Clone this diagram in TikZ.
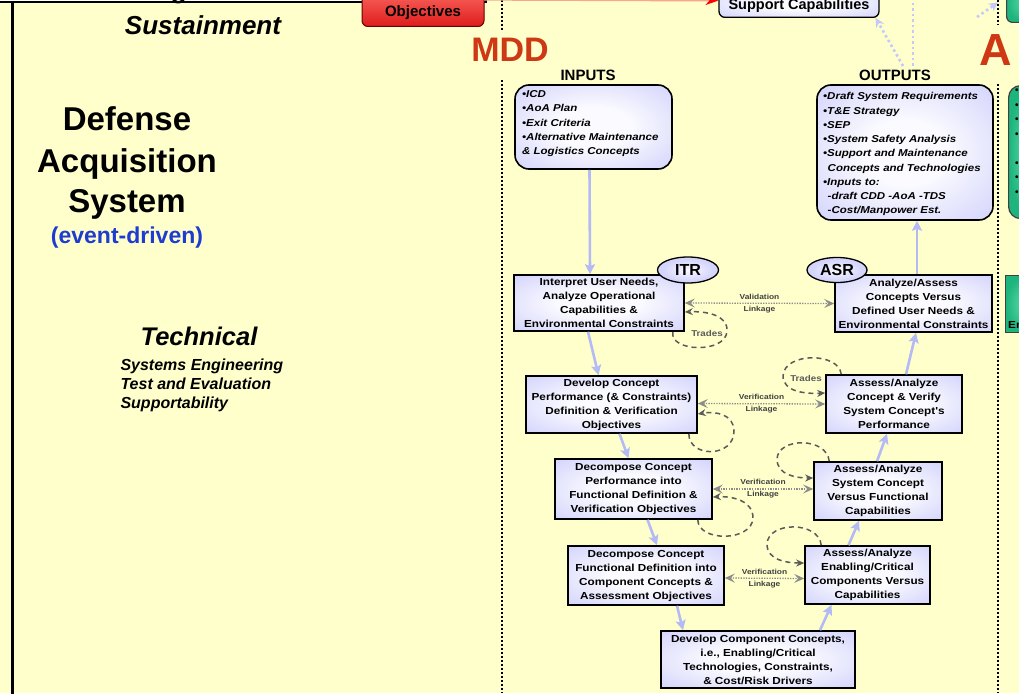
\documentclass[tikz,border=0pt]{standalone}
\usepackage{fontspec}
\setmainfont{Liberation Sans}
\newfontfamily\widesans{Liberation Sans}[FakeStretch=1.15]
\usetikzlibrary{arrows.meta,shapes.geometric}

\definecolor{pagebg}{RGB}{255,255,204}
\definecolor{lavedge}{RGB}{184,184,248}
\definecolor{lavmid}{RGB}{214,214,252}
\definecolor{lavcore}{RGB}{250,250,255}
\definecolor{ovaledge}{RGB}{196,196,255}
\definecolor{flowblue}{RGB}{180,186,246}
\definecolor{lbdot}{RGB}{196,200,250}
\definecolor{mddred}{RGB}{206,56,20}
\definecolor{evblue}{RGB}{30,60,210}
\definecolor{linkgray}{RGB}{140,140,140}
\definecolor{loopgray}{RGB}{90,90,90}
\definecolor{greenedge}{RGB}{30,180,125}
\definecolor{greencore}{RGB}{95,222,172}
\definecolor{redtop}{RGB}{255,115,105}
\definecolor{redbot}{RGB}{222,28,28}
\definecolor{redline}{RGB}{250,165,145}

% soft glow: near-white centre fading to lavender at the border
\pgfdeclareradialshading{boxglow}{\pgfpoint{0bp}{0bp}}{%
  color(0bp)=(lavcore); color(12bp)=(lavcore); color(34bp)=(lavmid);
  color(50bp)=(lavedge); color(100bp)=(lavedge)}
\pgfdeclareradialshading{ovalglow}{\pgfpoint{0bp}{0bp}}{%
  color(0bp)=(lavcore); color(20bp)=(lavmid); color(50bp)=(ovaledge); color(100bp)=(ovaledge)}

\newcommand{\boxtxt}{\widesans\bfseries\fontsize{10.2}{14}\selectfont}
\newcommand{\listtxt}{\widesans\bfseries\itshape\fontsize{10}{14.25}\selectfont}
\newcommand{\linktxt}{\widesans\bfseries\fontsize{7.3}{12}\selectfont}
\newcommand{\tradetxt}{\widesans\bfseries\fontsize{8.5}{10}\selectfont}

\begin{document}
\begin{tikzpicture}[x=1pt,y=-1pt,
  stepbox/.style={draw=black, line width=1.6pt, inner sep=0pt, align=center,
    shading=boxglow, font=\boxtxt},
  roundbox/.style={draw=black, line width=1.6pt, rounded corners=14pt, inner sep=0pt,
    shading=boxglow},
  listtext/.style={align=left, inner sep=0pt, font=\listtxt},
  tagoval/.style={ellipse, draw=black, line width=1.3pt, inner sep=0pt,
    shading=ovalglow, font=\bfseries\fontsize{16}{18}\selectfont},
  greenbox/.style={draw=black!75, line width=1.2pt, inner sep=0pt,
    inner color=greencore, outer color=greenedge},
  flow/.style={draw=flowblue, line width=2.6pt, -{Stealth[length=10pt,width=10pt,inset=2pt]}},
  lbdotted/.style={draw=lbdot, line width=2.6pt, dash pattern=on 2.5pt off 3pt},
  linkage/.style={draw=linkgray, line width=1.3pt, dash pattern=on 1.3pt off 1.3pt,
    {Stealth[length=10pt,width=9pt,inset=4pt]}-{Stealth[length=10pt,width=9pt,inset=4pt]}},
  linklabel/.style={align=center, inner sep=0pt, text=black!75, font=\linktxt},
  tradeloop/.style={draw=loopgray, line width=1.5pt, dash pattern=on 5pt off 4pt,
    -{Stealth[length=8pt,width=7pt]}},
  tradelabel/.style={inner sep=0pt, text=loopgray, font=\tradetxt},
  divider/.style={draw=black, line width=2pt, dash pattern=on 2pt off 2pt},
  heading/.style={anchor=base, font=\bfseries\fontsize{15}{17}\selectfont}
]
\clip (0,0) rectangle (1019,693);
\fill[pagebg] (0,0) rectangle (1019,693);

% phase dividers
\draw[divider] (502,0) -- (502,693);
\draw[divider] (998,0) -- (998,693);

% frame at the upper left
\draw[line width=2pt, fill=white] (-10,-20) rectangle (486,2.5);
\draw[line width=3pt] (12.5,2) -- (12.5,700);

% left-hand titles
\node[anchor=base, font=\bfseries\itshape\fontsize{26}{28}\selectfont] (logistics) at (211,-1) {Logistics \&};
\node[anchor=base, font=\bfseries\itshape\fontsize{26}{28}\selectfont] (sustain) at (203,35) {Sustainment};
\node[anchor=base, font=\bfseries\fontsize{33}{36}\selectfont] (defense) at (127,130) {Defense};
\node[anchor=base, font=\bfseries\fontsize{33}{36}\selectfont] (acquisition) at (127,172) {Acquisition};
\node[anchor=base, font=\bfseries\fontsize{33}{36}\selectfont] (system) at (127,212) {System};
\node[anchor=base, text=evblue, font=\bfseries\fontsize{23}{25}\selectfont] (event) at (127,243) {(event-driven)};
\node[anchor=base, font=\bfseries\itshape\fontsize{25.5}{28}\selectfont] (technical) at (199,345) {Technical};
\node[anchor=base west, font=\bfseries\itshape\fontsize{16}{18}\selectfont] (se) at (117,370) {Systems Engineering};
\node[anchor=base west, font=\bfseries\itshape\fontsize{16}{18}\selectfont] (te) at (117,389) {Test and Evaluation};
\node[anchor=base west, font=\bfseries\itshape\fontsize{16}{18}\selectfont] (sup) at (117,408) {Supportability};

% top row
\node[anchor=south, draw=black!60!red, line width=1pt, rounded corners=6pt,
  top color=redtop, bottom color=redbot, minimum width=122pt,
  inner ysep=2pt, text height=30pt, text depth=7.5pt,
  font=\bfseries\fontsize{15}{17}\selectfont] (redbox) at (423,27) {Objectives};
\node[anchor=south, draw=black, line width=1.3pt, rounded corners=6pt,
  shading=boxglow, minimum width=160pt,
  inner ysep=2pt, text height=20pt, text depth=5.5pt,
  font=\bfseries\fontsize{14.5}{16}\selectfont] (support) at (799,18) {Support Capabilities};
\draw[draw=redline, line width=1.8pt, -{Stealth[length=13pt,width=9pt,color=red]}]
  ([yshift=6pt]redbox.east) -- ([yshift=2pt]support.west);

\node[anchor=south west, greenbox, rounded corners=6pt, minimum width=40pt, minimum height=40pt] (gtop) at (1006,23) {};

% milestone letters
\node[anchor=base, fill=pagebg, inner xsep=3pt, inner ysep=8pt, text height=24pt, text depth=9pt,
  text=mddred, font=\bfseries\fontsize{34}{36}\selectfont] (mdd) at (510,62) {MDD};
\node[anchor=base, fill=pagebg, inner xsep=3pt, inner ysep=8pt, text height=33pt, text depth=10pt,
  text=mddred, font=\bfseries\fontsize{45}{48}\selectfont] (msa) at (996,66) {A};

% inputs and outputs
\node[heading] (inlabel) at (588,80) {INPUTS};
\node[heading] (outlabel) at (895,80) {OUTPUTS};

\node[roundbox, minimum width=157pt, minimum height=84pt] (inputs) at (593.5,127) {};
\node[listtext, anchor=north west] (inputslist) at (522,90.4)
  {•ICD\\•AoA Plan\\•Exit Criteria\\•Alternative Maintenance\\\& Logistics Concepts};

\node[roundbox, minimum width=176pt, minimum height=135pt] (outputs) at (905,152.5) {};
\node[listtext, anchor=north west] (outputslist) at (823,92.4)
  {•Draft System Requirements\\•T\&E Strategy\\•SEP\\•System Safety Analysis\\
   •Support and Maintenance\\\hspace*{4.5pt}Concepts and Technologies\\•Inputs to:\\
   \hspace*{4.5pt}-draft CDD -AoA -TDS\\\hspace*{4.5pt}-Cost/Manpower Est.};

\node[anchor=north west, greenbox, rounded corners=12pt, minimum width=40pt, minimum height=133pt] (gmid) at (1008,85) {};
\node[anchor=north west, align=left, inner sep=0pt, font=\bfseries\fontsize{10}{14.5}\selectfont]
  (gmidlist) at (1015,89) {•\\•\\•\\•\\\mbox{}\\•\\•\\•};
\node[anchor=north west, greenbox, minimum width=40pt, minimum height=57pt] (glow) at (1005,275) {};
\node[anchor=base west, inner sep=0pt, font=\boxtxt] (glowtext) at (1008,328) {Environmental};

% dotted feeds toward the top row
\coordinate (outtop) at (913,-5);
\coordinate (gfrom) at (977,17);
\draw[lbdotted, -{Stealth[length=9pt,width=9pt]}] ([xshift=8pt]outlabel.north) -- ([xshift=-4pt]support.south east);
\draw[lbdotted] ([xshift=18pt]outlabel.north) -- (outtop);
\draw[lbdotted, -{Stealth[length=9pt,width=9pt]}] (gfrom) -- ([xshift=-8pt]gtop.west);

% decomposition (left) and realization (right) steps
\node[stepbox, minimum width=170pt, minimum height=56pt] (b1) at (599,303)
  {Interpret User Needs,\\Analyze Operational\\Capabilities \&\\Environmental Constraints};
\node[stepbox, minimum width=171pt, minimum height=57pt] (b2) at (611.5,404.5)
  {Develop Concept\\Performance (\& Constraints)\\Definition \& Verification\\Objectives};
\node[stepbox, minimum width=157pt, minimum height=60pt] (b3) at (633.5,489)
  {Decompose Concept\\Performance into\\Functional Definition \&\\Verification Objectives};
\node[stepbox, minimum width=156pt, minimum height=59pt] (b4) at (646,575.5)
  {Decompose Concept\\Functional Definition into\\Component Concepts \&\\Assessment Objectives};
\node[stepbox, minimum width=194pt, minimum height=57pt] (b5) at (758,659.5)
  {Develop Component Concepts,\\i.e., Enabling/Critical\\Technologies, Constraints,\\\& Cost/Risk Drivers};

\node[stepbox, minimum width=157pt, minimum height=57pt] (r1) at (913.5,303.5)
  {Analyze/Assess\\Concepts Versus\\Defined User Needs \&\\Environmental Constraints};
\node[stepbox, minimum width=136pt, minimum height=58pt] (r2) at (894,404)
  {Assess/Analyze\\Concept \& Verify\\System Concept's\\Performance};
\node[stepbox, minimum width=128pt, minimum height=58pt] (r3) at (878,491)
  {Assess/Analyze\\System Concept\\Versus Functional\\Capabilities};
\node[stepbox, minimum width=125pt, minimum height=58pt] (r4) at (867.5,575)
  {Assess/Analyze\\Enabling/Critical\\Components Versus\\Capabilities};

% technical reviews
\node[tagoval, minimum width=61pt, minimum height=26pt] (itr) at (688,270) {ITR};
\node[tagoval, minimum width=60pt, minimum height=25pt] (asr) at (837,270) {ASR};

% flow down the left and up the right
\draw[flow] ([xshift=-4pt]inputs.south) -- ([xshift=-9pt]b1.north);
\draw[flow] ([xshift=-11pt]b1.south) -- ([xshift=-13pt]b2.north);
\draw[flow] ([xshift=8pt]b2.south) -- ([xshift=-5pt]b3.north);
\draw[flow] ([xshift=14pt]b3.south) -- ([xshift=11pt]b4.north);
\draw[flow] ([xshift=31pt]b4.south) -- ([xshift=-75pt]b5.north);
\draw[flow] ([xshift=62pt]b5.north) -- ([xshift=-36pt]r4.south);
\draw[flow] ([xshift=-19pt]r4.north) -- ([xshift=-19pt]r3.south);
\draw[flow] ([xshift=-1pt]r3.north) -- ([xshift=-7pt]r2.south);
\draw[flow] ([xshift=12pt]r2.north) -- ([xshift=2.5pt]r1.south);
\draw[flow] ([xshift=3.5pt]r1.north) -- ([xshift=12pt]outputs.south);

% validation and verification linkages
\draw[linkage] (b1.east) -- node[linklabel] (lk1) {Validation\\Linkage} (r1.west);
\draw[linkage] ([yshift=1pt]b2.east) -- node[linklabel] (lk2) {Verification\\Linkage} (r2.west);
\draw[linkage] (b3.east) -- node[linklabel] (lk3) {Verification\\Linkage} ([yshift=2pt]r3.west);
\draw[linkage] ([yshift=-2.5pt]b4.east) -- node[linklabel] (lk4) {Verification\\Linkage} ([yshift=-3.5pt]r4.west);

% trade loops
\draw[tradeloop] ([xshift=-12pt]b1.south east) .. controls (669,352) and (726,354) .. (727,331)
  .. controls (728,315) and (706,311) .. ([yshift=-9pt]b1.east);
\node[tradelabel] (tr1) at (707,333) {Trades};
\draw[tradeloop] ([xshift=-9pt]b2.south east) .. controls (689,458) and (734,458) .. (734,431)
  .. controls (734,414) and (715,411) .. ([yshift=-9.5pt]b2.east);
\draw[tradeloop] ([xshift=-15pt]b3.south east) .. controls (698,542) and (752,542) .. (753,518)
  .. controls (753,500) and (731,496) .. ([yshift=-8pt]b3.east);
\draw[tradeloop] ([xshift=16pt]r2.north west) .. controls (839,352) and (784,352) .. (783,376)
  .. controls (783,392) and (806,394) .. ([yshift=11pt]r2.west);
\node[tradelabel] (tr2) at (806,378) {Trades};
\draw[tradeloop] ([xshift=16pt]r3.north west) .. controls (827,437) and (778,437) .. (777,459)
  .. controls (777,475) and (796,478) .. ([yshift=13pt]r3.west);
\draw[tradeloop] ([xshift=17pt]r4.north west) .. controls (819,521) and (768,521) .. (767,544)
  .. controls (767,560) and (786,563) .. ([yshift=12pt]r4.west);
\end{tikzpicture}
\end{document}
